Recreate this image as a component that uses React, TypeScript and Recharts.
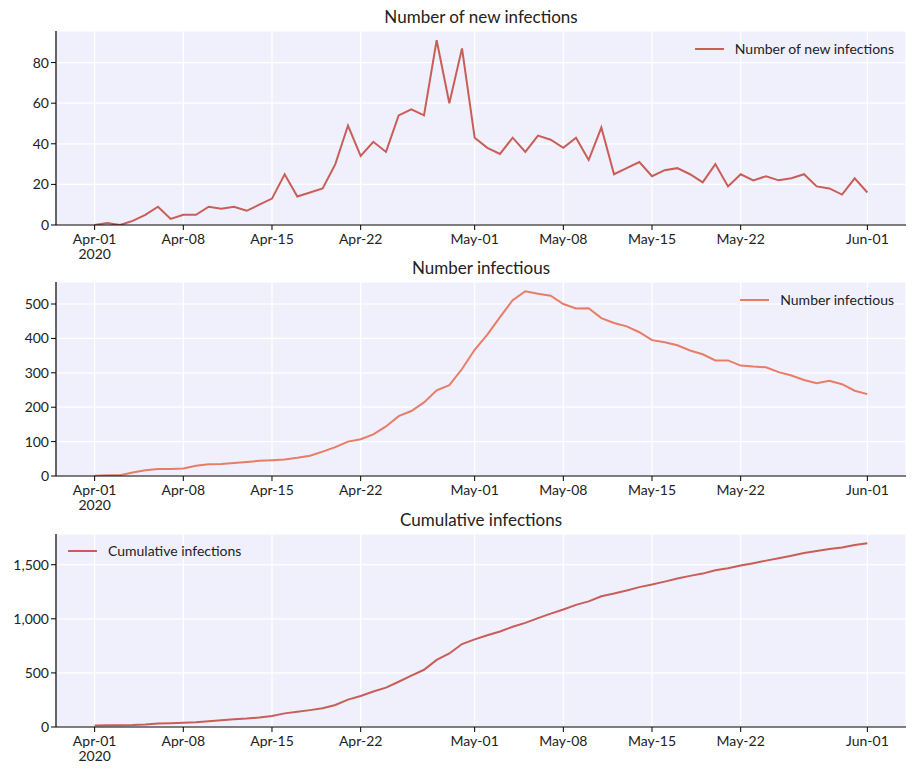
import { LineChart, Line, XAxis, YAxis, CartesianGrid, Legend } from "recharts";

// days since 2020-04-01
const days = Array.from({ length: 62 }, (_, i) => i);

const newInfections = [
	0, 1, 0, 2, 5, 9, 3, 5, 5, 9, 8, 9, 7, 10, 13, 25, 14, 16, 18, 30, 49, 34, 41, 36, 54, 57, 54, 91, 60, 87, 43,
	38, 35, 43, 36, 44, 42, 38, 43, 32, 48, 25, 28, 31, 24, 27, 28, 25, 21, 30, 19, 25, 22, 24, 22, 23, 25, 19, 18, 15,
	23, 16,
];

const infectious = [
	1, 2, 2, 10, 17, 20, 20, 22, 30, 34, 35, 38, 41, 44, 46, 48, 53, 59, 71, 84, 100, 107, 121, 144, 174, 189, 214, 249,
	264, 311, 367, 411, 462, 511, 537, 530, 524, 500, 487, 488, 459, 445, 435, 418, 395, 389, 380, 365, 354, 336, 336,
	321, 318, 316, 302, 292, 279, 270, 277, 267, 248, 238,
];

const cumulative = [
	15, 16, 16, 18, 23, 32, 35, 40, 45, 54, 62, 71, 78, 88, 101, 126, 140, 156, 174, 204, 253, 287, 328, 364, 418, 475,
	529, 620, 680, 767, 810, 848, 883, 926, 962, 1006, 1048, 1086, 1129, 1161, 1209, 1234, 1262, 1293, 1317, 1344, 1372,
	1397, 1418, 1448, 1467, 1492, 1514, 1538, 1560, 1583, 1608, 1627, 1645, 1660, 1683, 1699,
];

const xTicks = [0, 7, 14, 21, 30, 37, 44, 51, 61];
const xTickLabels = ["Apr-01", "Apr-08", "Apr-15", "Apr-22", "May-01", "May-08", "May-15", "May-22", "Jun-01"];

const FONT = "Lato, 'Open Sans', sans-serif";
const BG = "#f0f0fc";
const X_AXIS_H = 45;

const XTick = (props: any) => {
	const { x, y, payload } = props;
	const idx = xTicks.indexOf(payload.value);
	return (
		<g>
			<text x={x} y={y + 12} textAnchor="middle" fontSize={14} fill="#222" fontFamily={FONT}>
				{xTickLabels[idx]}
			</text>
			{idx === 0 && (
				<text x={x} y={y + 27} textAnchor="middle" fontSize={14} fill="#222" fontFamily={FONT}>
					2020
				</text>
			)}
		</g>
	);
};

const LegendBox = ({ label, color, align }: { label: string; color: string; align: "left" | "right" }) => (
	<div
		style={{
			display: "flex",
			alignItems: "center",
			justifyContent: align === "left" ? "flex-start" : "flex-end",
			fontFamily: FONT,
			fontSize: 14,
			color: "#222",
		}}
	>
		<span style={{ display: "inline-block", width: 29, height: 2, background: color, marginRight: 11 }} />
		<span>{label}</span>
	</div>
);

interface PanelProps {
	top: number;
	plotH: number;
	marginTop: number;
	title: string;
	dataKey: string;
	values: number[];
	color: string;
	yMax: number;
	yTicks: number[];
	legendAlign: "left" | "right";
	legendTop: number;
}

function Panel({ top, plotH, marginTop, title, dataKey, values, color, yMax, yTicks, legendAlign, legendTop }: PanelProps) {
	const data = days.map((d, i) => ({ day: d, [dataKey]: values[i] }));
	const height = marginTop + plotH + X_AXIS_H;
	return (
		<div style={{ position: "absolute", left: 0, top, width: 916, height }}>
			<div
				style={{
					position: "absolute",
					left: 56,
					width: 850,
					top: marginTop - 25,
					textAlign: "center",
					fontFamily: FONT,
					fontSize: 17,
					color: "#222",
				}}
			>
				{title}
			</div>
			<LineChart width={916} height={height} data={data} margin={{ top: marginTop, right: 10, left: 0, bottom: 0 }}>
				<CartesianGrid stroke="#ffffff" strokeWidth={1.2} fill={BG} fillOpacity={1} />
				<XAxis
					dataKey="day"
					type="number"
					domain={[-3.05, 64.05]}
					ticks={xTicks}
					tick={<XTick />}
					height={X_AXIS_H}
					stroke="#000"
					tickSize={5}
					tickLine={{ stroke: "#000" }}
					axisLine={{ stroke: "#000", strokeWidth: 1.2 }}
					allowDataOverflow
				/>
				<YAxis
					type="number"
					domain={[0, yMax]}
					ticks={yTicks}
					width={56}
					tickSize={5}
					tick={{ fontSize: 14, fill: "#222", fontFamily: FONT }}
					tickFormatter={(v: number) => v.toLocaleString("en-US")}
					tickLine={{ stroke: "#000" }}
					axisLine={{ stroke: "#000", strokeWidth: 1.2 }}
					allowDataOverflow
				/>
				<Legend
					verticalAlign="middle"
					align="center"
					wrapperStyle={{
						position: "absolute",
						top: legendTop,
						left: legendAlign === "left" ? 68 : 56,
						width: legendAlign === "left" ? 400 : 838,
					}}
					content={() => <LegendBox label={title} color={color} align={legendAlign} />}
				/>
				<Line
					type="linear"
					dataKey={dataKey}
					name={title}
					stroke={color}
					strokeWidth={2}
					dot={false}
					isAnimationActive={false}
				/>
			</LineChart>
		</div>
	);
}

export default function App() {
	return (
		<div style={{ position: "absolute", left: 0, top: 0, width: 916, height: 775, background: "#fff" }}>
			<Panel
				top={0}
				plotH={194}
				marginTop={31}
				title="Number of new infections"
				dataKey="newInfections"
				values={newInfections}
				color="#c95d57"
				yMax={95.55}
				yTicks={[0, 20, 40, 60, 80]}
				legendAlign="right"
				legendTop={40}
			/>
			<Panel
				top={252}
				plotH={194}
				marginTop={30}
				title="Number infectious"
				dataKey="infectious"
				values={infectious}
				color="#e87c67"
				yMax={564}
				yTicks={[0, 100, 200, 300, 400, 500]}
				legendAlign="right"
				legendTop={39}
			/>
			<Panel
				top={504}
				plotH={193}
				marginTop={30}
				title="Cumulative infections"
				dataKey="cumulative"
				values={cumulative}
				color="#c95d57"
				yMax={1784}
				yTicks={[0, 500, 1000, 1500]}
				legendAlign="left"
				legendTop={38}
			/>
		</div>
	);
}
